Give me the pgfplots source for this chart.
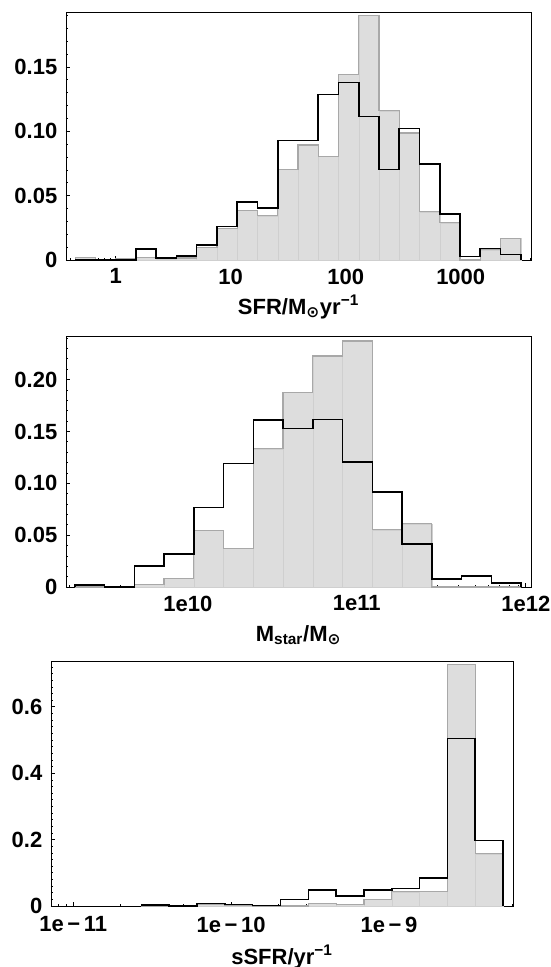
\documentclass[border=0pt]{standalone}
\usepackage{fontspec}
\setmainfont{Liberation Sans}
\newfontfamily\dejavu{DejaVu Sans}
\usepackage{pgfplots}
\usepackage{pgfplotstable}
\pgfplotsset{compat=1.18}

\definecolor{barfill}{HTML}{DDDDDD}
\definecolor{barline}{HTML}{A8A8A8}
\definecolor{barinner}{HTML}{CFCFCF}
\newcommand\lbl{\fontsize{16.5}{19}\selectfont\bfseries}

% columns: left bin edge, grey histogram, black histogram
\pgfplotstableread{
x        g       b
0.4444   0       0
0.4444   0.0021  0
0.6667   0       0
1.0000   0.0010  0
1.5000   0.0022  0.0085
2.2500   0.0010  0.0016
3.3750   0.0016  0.0030
5.0625   0.0098  0.0115
7.5938   0.0245  0.0260
11.391   0.0385  0.0453
17.086   0.0343  0.0405
25.629   0.0705  0.0930
38.443   0.0894  0.0930
57.665   0.0805  0.1285
86.498   0.1440  0.1378
129.75   0.1902  0.1115
194.62   0.1160  0.0702
291.93   0.0987  0.1022
437.89   0.0375  0.0747
656.84   0.0289  0.0356
985.26   0       0.0027
1477.9   0.0080  0.0090
2216.8   0.0170  0.0043
3325.3   0.0170  0.0043
3325.3   0       0
}\sfr

\pgfplotstableread{
x          g       b
2.1429e9   0       0
2.1429e9   0       0.0017
3.2144e9   0       0
4.8215e9   0.0025  0.0205
7.2323e9   0.0085  0.0320
1.0848e10  0.0545  0.0766
1.6273e10  0.0375  0.1190
2.4409e10  0.1333  0.1610
3.6614e10  0.1875  0.1530
5.4921e10  0.2227  0.1615
8.2381e10  0.2372  0.1208
1.2357e11  0.0551  0.0917
1.8536e11  0.0609  0.0417
2.7804e11  0       0.0076
4.1706e11  0       0.0109
6.2558e11  0       0.0040
9.3837e11  0       0.0040
9.3837e11  0       0
}\mstar

\pgfplotstableread{
x           g       b
2.705e-11   0       0
2.705e-11   0       0.003
4.058e-11   0       0
6.087e-11   0.005   0.007
9.130e-11   0.003   0.004
1.3695e-10  0       0.002
2.0543e-10  0       0.020
3.0815e-10  0.007   0.049
4.6222e-10  0.005   0.030
6.9333e-10  0.020   0.049
1.0400e-9   0.043   0.053
1.5600e-9   0.044   0.084
2.3400e-9   0.728   0.505
3.5100e-9   0.157   0.197
5.2650e-9   0.157   0.197
5.2650e-9   0       0
}\ssfr

\pgfplotsset{
  hist/.style={
    scale only axis,
    anchor=south west,
    ymin=0,
    tick pos=left,
    tick align=inside,
    axis line style={black, line width=0.6pt},
    tick style={black, line width=0.5pt},
    major tick length=2.8pt,
    minor tick length=1.6pt,
    ticklabel style={font=\lbl},
    xticklabel style={yshift=-3pt},
    yticklabel style={xshift=-3pt},
    xlabel style={font=\lbl, at={(axis description cs:0.5,0)}, anchor=base, yshift=-40.5pt},
  },
}

\begin{document}
\begin{tikzpicture}
\useasboundingbox (0,0) rectangle (412.5pt,-725.25pt);

% SFR
\begin{semilogxaxis}[hist,
  at={(49.5pt,-195pt)}, width=348.75pt, height=186pt,
  xmin=0.370, xmax=4083, ymax=0.1927,
  xtick={1,10,100,1000}, xticklabels={1,10,100,1000},
  minor xtick={0.4,0.5,0.6,0.7,0.8,0.9,2,3,4,5,6,7,8,9,20,30,40,50,60,70,80,90,200,300,400,500,600,700,800,900,2000,3000,4000},
  ytick={0,0.05,0.1,0.15}, yticklabels={0,0.05,0.10,0.15},
  minor ytick={0.01,0.02,...,0.19},
  xlabel={SFR/M\textsubscript{\dejavu ⊙}yr\textsuperscript{−1}},
]
\addplot[ybar interval, fill=barfill, draw=barinner, line width=0.3pt] table[x=x,y=g] {\sfr};
\addplot[const plot mark left, draw=barline, line width=0.9pt] table[x=x,y=g] {\sfr};
\addplot[const plot mark left, draw=black, line width=1.2pt] table[x=x,y=b] {\sfr};
\end{semilogxaxis}

% stellar mass
\begin{semilogxaxis}[hist,
  at={(49.5pt,-440.25pt)}, width=348.75pt, height=188.25pt,
  xmin=1.901e9, xmax=1.074e12, ymax=0.242,
  xtick={1e10,1e11,1e12}, xticklabels={1e10,1e11,1e12},
  minor xtick={2e9,3e9,4e9,5e9,6e9,7e9,8e9,9e9,2e10,3e10,4e10,5e10,6e10,7e10,8e10,9e10,2e11,3e11,4e11,5e11,6e11,7e11,8e11,9e11},
  ytick={0,0.05,0.1,0.15,0.2}, yticklabels={0,0.05,0.10,0.15,0.20},
  minor ytick={0.01,0.02,...,0.24},
  xlabel={M\textsubscript{star}/M\textsubscript{\dejavu ⊙}},
]
\addplot[ybar interval, fill=barfill, draw=barinner, line width=0.3pt] table[x=x,y=g] {\mstar};
\addplot[const plot mark left, draw=barline, line width=0.9pt] table[x=x,y=g] {\mstar};
\addplot[const plot mark left, draw=black, line width=1.2pt] table[x=x,y=b] {\mstar};
\end{semilogxaxis}

% specific SFR
\begin{semilogxaxis}[hist,
  at={(38.25pt,-679.5pt)}, width=346.5pt, height=183.75pt,
  xmin=7.23e-12, xmax=6.095e-9, ymax=0.738,
  xtick={1e-11,1e-10,1e-9}, xticklabels={1e\,−\,11,1e\,−\,10,1e\,−\,9},
  xticklabel style={yshift=-1.5pt},
  minor xtick={8e-12,9e-12,2e-11,3e-11,4e-11,5e-11,6e-11,7e-11,8e-11,9e-11,2e-10,3e-10,4e-10,5e-10,6e-10,7e-10,8e-10,9e-10,2e-9,3e-9,4e-9,5e-9,6e-9},
  ytick={0,0.2,0.4,0.6}, yticklabels={0,0.2,0.4,0.6},
  minor ytick={0.02,0.04,...,0.72},
  xlabel={sSFR/yr\textsuperscript{−1}},
  xlabel style={yshift=-3pt},
]
\addplot[ybar interval, fill=barfill, draw=barinner, line width=0.3pt] table[x=x,y=g] {\ssfr};
\addplot[const plot mark left, draw=barline, line width=0.9pt] table[x=x,y=g] {\ssfr};
\addplot[const plot mark left, draw=black, line width=1.2pt] table[x=x,y=b] {\ssfr};
\end{semilogxaxis}
\end{tikzpicture}
\end{document}
